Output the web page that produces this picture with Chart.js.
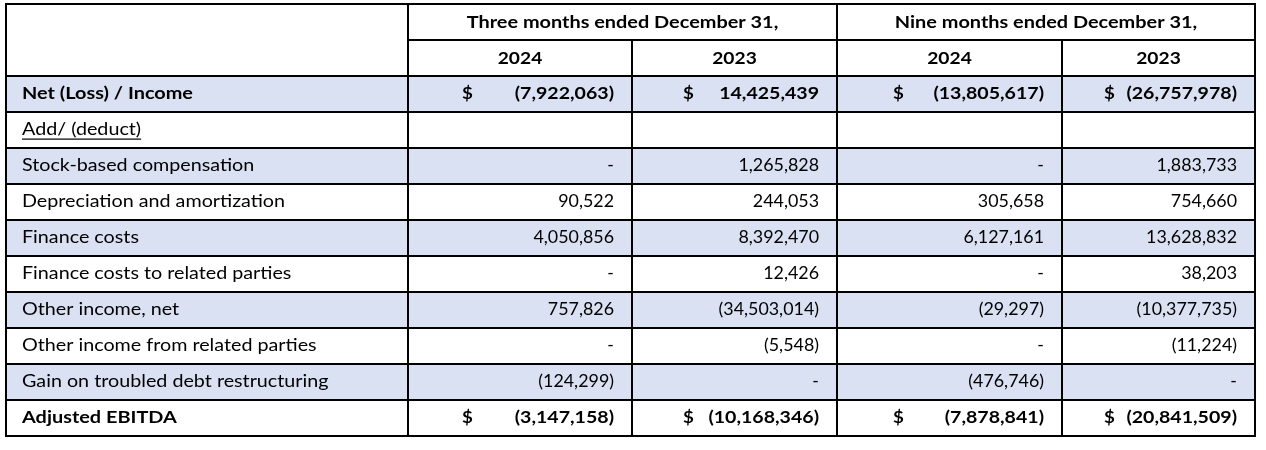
<!DOCTYPE html>
<html lang="en">
<head>
  <meta charset="UTF-8">
  <title>Adjusted EBITDA reconciliation</title>
  <script src="https://cdn.jsdelivr.net/npm/chart.js"></script>
  <style>
    body { margin: 0; background: #fff; }
    .wrapper { width: 1266px; height: 450px; }
  </style>
</head>
<body>

<div class="wrapper">
  <canvas id="chart"></canvas>
</div>

<script>
// table content
const periodHeaders = ['Three months ended December 31,', 'Nine months ended December 31,'];
const yearHeaders = ['2024', '2023', '2024', '2023'];

const rowLabels = [
  'Net (Loss) / Income',
  'Add/ (deduct)',
  'Stock-based compensation',
  'Depreciation and amortization',
  'Finance costs',
  'Finance costs to related parties',
  'Other income, net',
  'Other income from related parties',
  'Gain on troubled debt restructuring',
  'Adjusted EBITDA'
];

// null = empty cell, 0 = shown as "-"
const threeMonths2024 = [-7922063, null, 0, 90522, 4050856, 0, 757826, 0, -124299, -3147158];
const threeMonths2023 = [14425439, null, 1265828, 244053, 8392470, 12426, -34503014, -5548, 0, -10168346];
const nineMonths2024 = [-13805617, null, 0, 305658, 6127161, 0, -29297, 0, -476746, -7878841];
const nineMonths2023 = [-26757978, null, 1883733, 754660, 13628832, 38203, -10377735, -11224, 0, -20841509];

const valueColumns = [threeMonths2024, threeMonths2023, nineMonths2024, nineMonths2023];
const dollarRows = [0, 9];
const boldRows = [0, 9];
const underlineRows = [1];
const shadedRows = [0, 2, 4, 6, 8];

// layout (x scale units = px inside the table)
const tableWidth = 1249;
const columnEdges = [0, 402, 626, 831, 1056, tableWidth];
const dollarOffset = [54, 51, 56, 42];
const fontFamily = 'Lato, "Open Sans", sans-serif';
const fontSize = 17;
const shadeColor = '#d9e1f2';

const categories = ['', ' '].concat(rowLabels);

function fmt(v) {
  if (v === null || v === undefined) return '';
  if (v === 0) return '-';
  const s = Math.abs(v).toLocaleString('en-US');
  return v < 0 ? '(' + s + ')' : s;
}

// Lato is narrower than the original Calibri, so widen the glyphs a bit
function drawText(ctx, text, x, y, align, sx) {
  ctx.save();
  ctx.translate(x, y);
  ctx.scale(sx, 1);
  ctx.textAlign = align;
  ctx.fillText(text, 0, 0);
  const w = ctx.measureText(text).width * sx;
  ctx.restore();
  return w;
}

const tablePlugin = {
  id: 'tableCells',
  afterDatasetsDraw(chart) {
    const ctx = chart.ctx;
    const x = chart.scales.x;
    const y = chart.scales.y;
    const step = y.getPixelForValue(1) - y.getPixelForValue(0);
    const top = y.getPixelForValue(0) - step / 2;
    const colPx = columnEdges.map(v => x.getPixelForValue(v));
    const bold = 'bold ' + fontSize + 'px ' + fontFamily;
    const normal = fontSize + 'px ' + fontFamily;

    ctx.save();
    ctx.fillStyle = '#000';
    ctx.textBaseline = 'middle';

    // header row 1
    let cy = y.getPixelForValue(0) + 1;
    ctx.font = bold;
    drawText(ctx, periodHeaders[0], (colPx[1] + colPx[3]) / 2, cy, 'center', 1.17);
    drawText(ctx, periodHeaders[1], (colPx[3] + colPx[5]) / 2, cy, 'center', 1.17);

    // header row 2
    cy = y.getPixelForValue(1) + 1;
    yearHeaders.forEach((t, c) => {
      drawText(ctx, t, (colPx[c + 1] + colPx[c + 2]) / 2, cy, 'center', 1.13);
    });

    // body rows
    rowLabels.forEach((label, r) => {
      cy = y.getPixelForValue(r + 2);
      const isBold = boldRows.includes(r);
      ctx.font = isBold ? bold : normal;
      const lx = colPx[0] + 16;
      const w = drawText(ctx, label, lx, cy, 'left', isBold ? 1.17 : 1.16);
      if (underlineRows.includes(r)) {
        ctx.fillRect(lx, cy + 8.5, w, 1.2);
      }
      valueColumns.forEach((col, c) => {
        drawText(ctx, fmt(col[r]), colPx[c + 2] - 18, cy, 'right', isBold ? 1.15 : 1.05);
        if (dollarRows.includes(r)) {
          drawText(ctx, '$', colPx[c + 1] + dollarOffset[c], cy, 'left', 1.1);
        }
      });
    });

    // grid lines
    ctx.strokeStyle = '#000';
    ctx.lineWidth = 2;
    ctx.lineCap = 'square';
    ctx.beginPath();
    for (let k = 0; k <= categories.length; k++) {
      const ly = top + k * step;
      ctx.moveTo(k === 1 ? colPx[1] : colPx[0], ly);
      ctx.lineTo(colPx[5], ly);
    }
    const bottom = top + categories.length * step;
    [0, 1, 3, 5].forEach(i => {
      ctx.moveTo(colPx[i], top);
      ctx.lineTo(colPx[i], bottom);
    });
    [2, 4].forEach(i => {
      ctx.moveTo(colPx[i], top + step);
      ctx.lineTo(colPx[i], bottom);
    });
    ctx.stroke();
    ctx.restore();
  }
};

const shading = categories.map((_, i) =>
  shadedRows.includes(i - 2) ? [0, tableWidth] : null);

new Chart(document.getElementById('chart'), {
  type: 'bar',
  data: {
    labels: categories,
    datasets: [{
      data: shading,
      backgroundColor: shadeColor,
      borderWidth: 0,
      barPercentage: 1,
      categoryPercentage: 1
    }]
  },
  options: {
    indexAxis: 'y',
    responsive: true,
    maintainAspectRatio: false,
    animation: false,
    events: [],
    layout: { padding: { left: 6, top: 4, right: 11, bottom: 14 } },
    plugins: {
      legend: { display: false },
      tooltip: { enabled: false }
    },
    scales: {
      x: { display: false, min: 0, max: tableWidth },
      y: { display: false, grid: { display: false } }
    }
  },
  plugins: [tablePlugin]
});
</script>
</body>
</html>
